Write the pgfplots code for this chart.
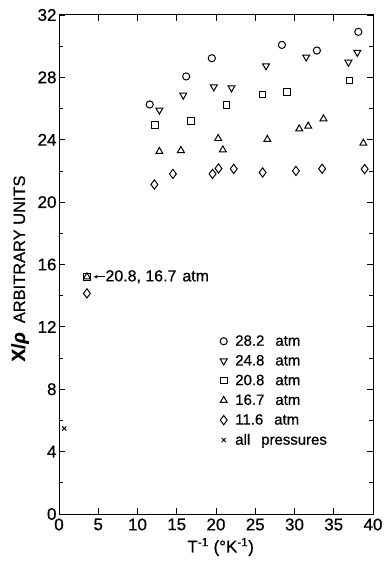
\documentclass[border=0pt]{standalone}
\usepackage{fontspec}
\setmainfont{Liberation Sans}[FakeBold=0.7]
\usepackage{pgfplots}
\pgfplotsset{compat=1.18}
\usetikzlibrary{arrows.meta}

\newcommand{\gap}{\hspace{11bp}}

\begin{document}
\begin{tikzpicture}
\begin{axis}[
  scale only axis, width=314bp, height=499bp,
  xmin=0, xmax=40, ymin=0, ymax=32,
  xtick={0,5,...,40}, ytick={0,4,...,32}, minor ytick={2,6,...,30},
  tick align=inside, major tick length=6bp, minor tick length=4bp,
  axis line style={line width=1pt},
  every tick/.style={black, line width=0.8pt},
  tick label style={font=\fontsize{17}{20}\selectfont},
  /pgf/number format/assume math mode=true,
  xticklabel style={yshift=-1bp},
  yticklabel style={xshift=1bp},
  xlabel={T\textsuperscript{-1} (°K\textsuperscript{-1})},
  ylabel={{\fontsize{19}{23}\selectfont\bfseries X/\textit{ρ}}\hspace{9bp}ARBITRARY UNITS},
  every axis x label/.style={at={(axis description cs:0.515,0)}, anchor=center, yshift=-33bp, font=\fontsize{17}{20}\selectfont},
  every axis y label/.style={at={(axis description cs:-0.124,0.492)}, rotate=90, anchor=center, font=\fontsize{16.5}{20}\selectfont},
  legend style={at={(axis cs:20.5,11.6)}, anchor=north west, draw=none, fill=none,
    font=\fontsize{15}{18}\selectfont, row sep=3.8bp, column sep=6bp, inner sep=0pt},
  legend cell align=left,
]
% 28.2 atm
\addplot[only marks, mark=o, mark size=3.6bp, mark options={line width=1pt}] coordinates {
  (11.56,26.26) (16.2,28.06) (19.47,29.23) (28.4,30.08) (32.85,29.72) (38.13,30.92)
};
% 24.8 atm
\addplot[only marks, mark=triangle, mark size=4bp, mark options={rotate=180, line width=1pt}] coordinates {
  (12.79,25.9) (15.83,26.86) (19.72,27.39) (21.97,27.33) (26.37,28.74) (31.49,29.3) (36.87,28.97) (38.0,29.6)
};
% 20.8 atm
\addplot[only marks, mark=square, mark size=3.3bp, mark options={line width=1pt}] coordinates {
  (3.56,15.21) (12.23,24.96) (16.8,25.2) (21.33,26.22) (25.9,26.9) (29.08,27.05) (36.99,27.8)
};
% 16.7 atm
\addplot[only marks, mark=triangle, mark size=4bp, mark options={line width=1pt}] coordinates {
  (3.56,15.21) (12.79,23.25) (15.53,23.31) (20.28,24.08) (20.87,23.35) (26.54,24.02) (30.6,24.7) (31.75,24.87) (33.69,25.34) (38.77,23.78)
};
% 11.6 atm
\addplot[only marks, mark=diamond, mark size=4.6bp, mark options={line width=1pt}] coordinates {
  (3.56,14.15) (12.15,21.13) (14.51,21.81) (19.56,21.81) (20.32,22.16) (22.26,22.13) (25.94,21.9) (30.18,22.0) (33.52,22.14) (38.94,22.12)
};
% all pressures
\addplot[only marks, mark=x, mark size=3bp, mark options={line width=0.9pt}] coordinates {
  (0.67,5.49)
};
\legend{28.2\gap atm, 24.8\gap atm, 20.8\gap atm, 16.7\gap atm, 11.6\gap atm, all\gap pressures}
\draw[-{Stealth[length=4bp,width=3.5bp]}, line width=0.8pt] (axis cs:5.8,15.21) -- (axis cs:4.4,15.21);
\node[anchor=west, inner sep=0pt, font=\fontsize{16}{19}\selectfont] at (axis cs:5.9,15.21) {20.8, 16.7\hspace{6bp}atm};
\end{axis}
\pgfresetboundingbox
\path[use as bounding box] ([shift={(-59bp,-51bp)}]current axis.south west) rectangle ([shift={(11bp,15bp)}]current axis.north east);
\end{tikzpicture}
\end{document}
